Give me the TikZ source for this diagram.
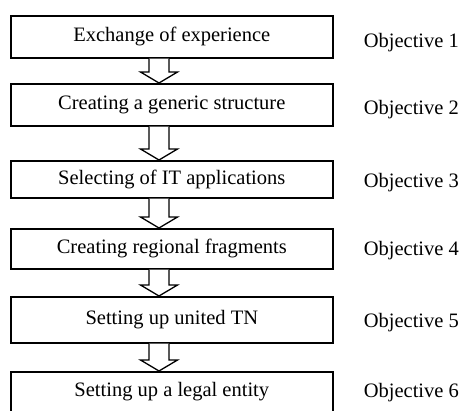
\documentclass[tikz,border=0pt]{standalone}
\usepackage{fontspec}
\setmainfont{Liberation Serif}
\usetikzlibrary{calc,positioning}

\tikzset{
  stepbox/.style={draw, line width=1.6pt, minimum width=322pt, inner sep=0pt, anchor=north west},
  goal/.style={anchor=west, inner sep=0pt},
  blockarrow/.style={draw, line width=1.3pt, line join=miter, fill=white}
}

% hollow block arrow from the bottom of one box to the top of the next
\newcommand{\blockdown}[2]{%
  \draw[blockarrow] ($(#1.south -| ax)+(-10,0)$) -- ($(#2.north -| ax)+(-10,11)$)
    -- ($(#2.north -| ax)+(-18.5,11)$) -- (#2.north -| ax)
    -- ($(#2.north -| ax)+(18.5,11)$) -- ($(#2.north -| ax)+(10,11)$)
    -- ($(#1.south -| ax)+(10,0)$);}

\begin{document}
\begin{tikzpicture}[x=1pt, y=1pt, font=\fontsize{20.5}{24}\selectfont]
    \useasboundingbox (0,0) rectangle (463,-410);

    % Draw the boxes
    \node[stepbox, minimum height=42pt] (b1) at (10,-15) {Exchange of experience};
    \node[stepbox, minimum height=42pt] (b2) at (10,-83) {Creating a generic structure};
    \node[stepbox, minimum height=37pt] (b3) at (10,-160) {Selecting of IT applications};
    \node[stepbox, minimum height=40pt] (b4) at (10,-228) {Creating regional fragments};
    \node[stepbox, minimum height=46pt] (b5) at (10,-296) {Setting up united TN};
    \node[stepbox, minimum height=40pt] (b6) at (10,-371) {Setting up a legal entity};

    % Objectives beside the boxes
    \node[goal, right=30pt of b1, yshift=-6pt] (o1) {Objective 1};
    \node[goal, right=30pt of b2, yshift=-5pt] (o2) {Objective 2};
    \node[goal, right=30pt of b3, yshift=-3pt] (o3) {Objective 3};
    \node[goal, right=30pt of b4, yshift=-2pt] (o4) {Objective 4};
    \node[goal, right=30pt of b5, yshift=-3pt] (o5) {Objective 5};
    \node[goal, right=30pt of b6, yshift=-1pt] (o6) {Objective 6};

    % Draw the arrows
    \coordinate (ax) at (159,0);
    \blockdown{b1}{b2}
    \blockdown{b2}{b3}
    \blockdown{b3}{b4}
    \blockdown{b4}{b5}
    \blockdown{b5}{b6}

\end{tikzpicture}
\end{document}
